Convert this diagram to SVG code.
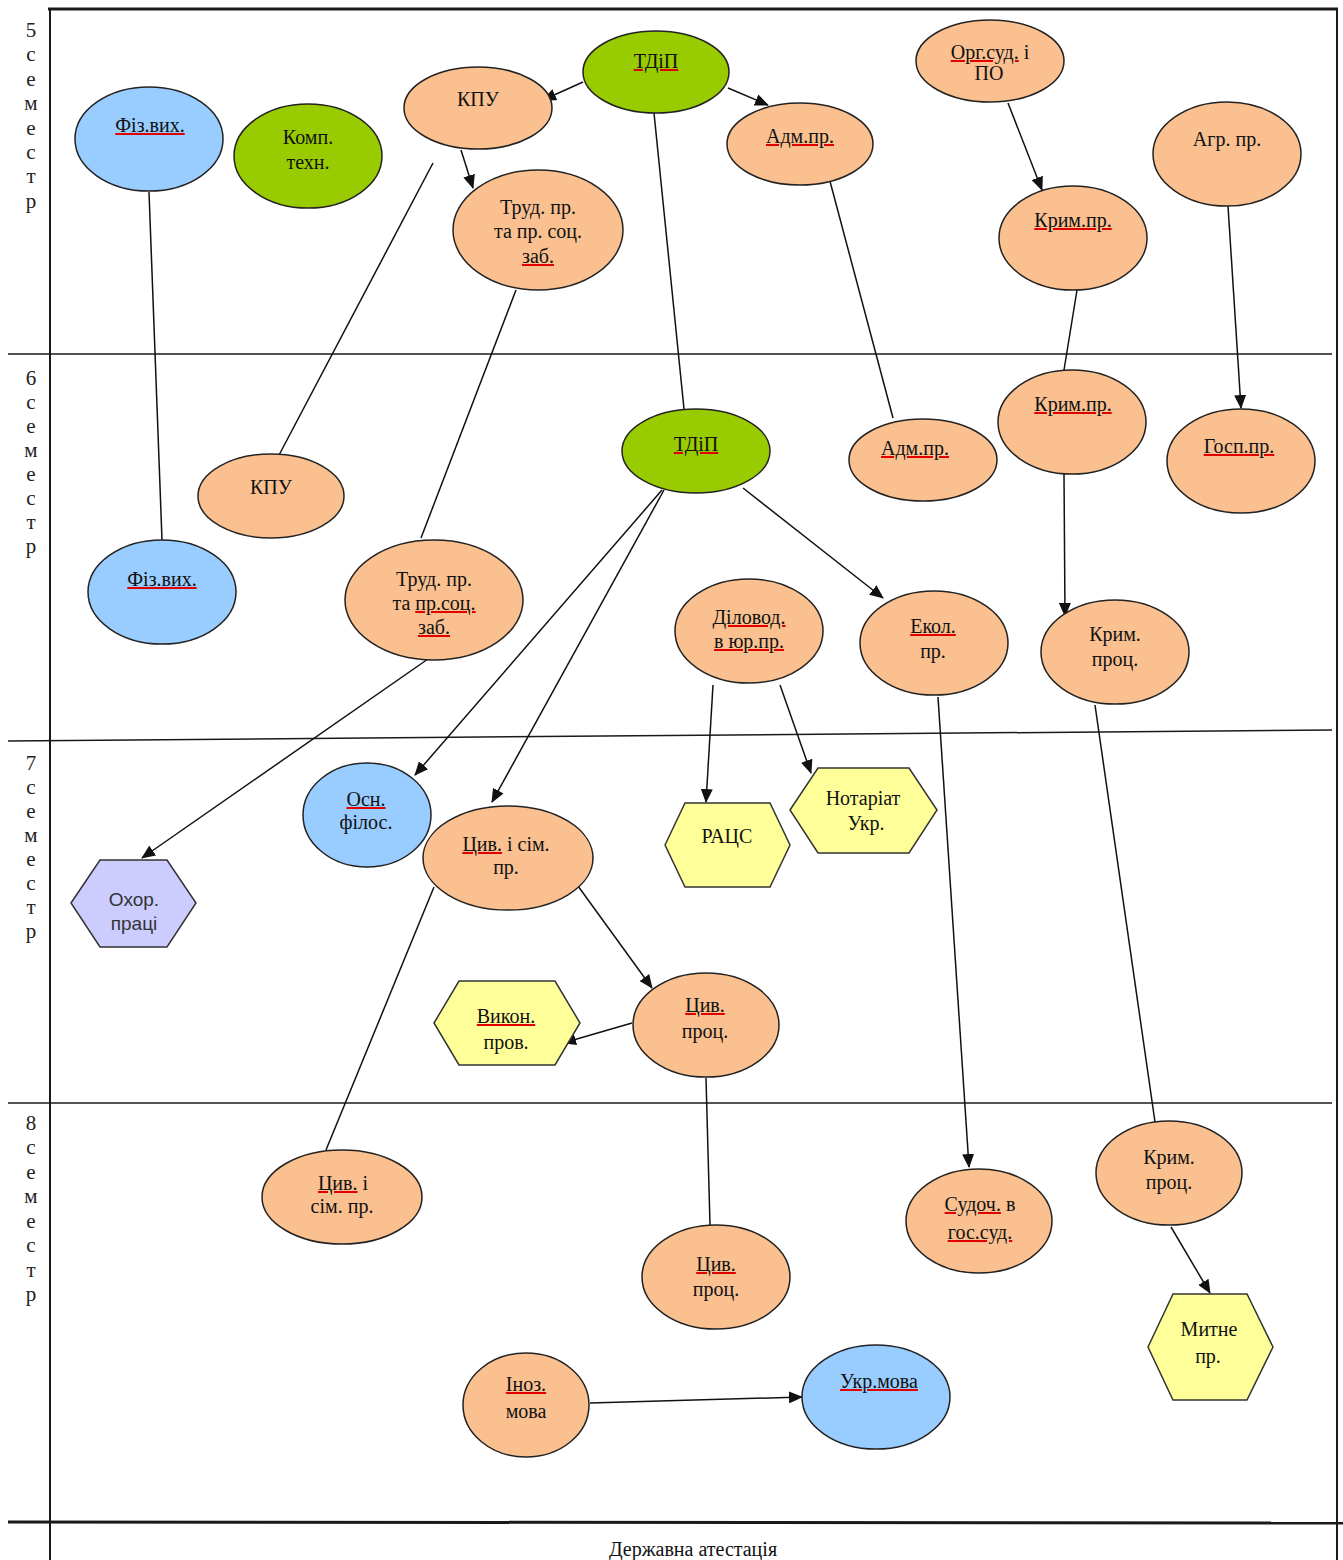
<svg xmlns="http://www.w3.org/2000/svg" width="1343" height="1560" viewBox="0 0 1343 1560">
<style>
text{font-family:"Liberation Serif","Times New Roman",serif;font-size:20px;fill:#111;text-anchor:middle}
.sem{font-size:21px;fill:#222}
.or{fill:#FAC090;stroke:#222;stroke-width:1.5}
.bl{fill:#99CCFF;stroke:#222;stroke-width:1.5}
.gr{fill:#99CC00;stroke:#222;stroke-width:1.5}
.ye{fill:#FFFF99;stroke:#333;stroke-width:1.5}
.lv{fill:#CCCCFF;stroke:#333;stroke-width:1.5}
tspan.u{fill:#e00000;text-decoration:underline}
tspan.k{fill:#111}
.frame line{stroke:#1a1a1a;stroke-width:2}
.conn path{stroke:#111;stroke-width:1.5;fill:none}
.arr{marker-end:url(#ah)}
.sans{font-family:"Liberation Sans",Arial,sans-serif;font-size:19px;fill:#333}
</style>
<defs>
<marker id="ah" markerUnits="userSpaceOnUse" markerWidth="14" markerHeight="12" viewBox="0 0 14 12" refX="13" refY="6" orient="auto">
<path d="M0,0 L14,6 L0,12 Z" fill="#111"/>
</marker>
</defs>
<rect width="1343" height="1560" fill="#fff"/>
<g id="frame" class="frame">
<line x1="48" y1="9" x2="1338" y2="9" style="stroke-width:3"/>
<line x1="50" y1="9" x2="50" y2="1560"/>
<line x1="1337" y1="9" x2="1337" y2="1560"/>
<line x1="8" y1="354" x2="1332" y2="354" style="stroke-width:1.5"/>
<line x1="8" y1="741" x2="1332" y2="730" style="stroke-width:1.5"/>
<line x1="8" y1="1103" x2="1332" y2="1103" style="stroke-width:1.5"/>
<line x1="8" y1="1522" x2="1343" y2="1523" style="stroke-width:3"/>
</g>
<g id="semester-labels">
<text class="sem" x="31" y="37">5</text><text class="sem" x="31" y="61">с</text><text class="sem" x="31" y="86">е</text><text class="sem" x="31" y="110">м</text><text class="sem" x="31" y="135">е</text><text class="sem" x="31" y="159">с</text><text class="sem" x="31" y="183">т</text><text class="sem" x="31" y="208">р</text>
<text class="sem" x="31" y="385">6</text><text class="sem" x="31" y="409">с</text><text class="sem" x="31" y="433">е</text><text class="sem" x="31" y="457">м</text><text class="sem" x="31" y="481">е</text><text class="sem" x="31" y="505">с</text><text class="sem" x="31" y="529">т</text><text class="sem" x="31" y="553">р</text>
<text class="sem" x="31" y="770">7</text><text class="sem" x="31" y="794">с</text><text class="sem" x="31" y="818">е</text><text class="sem" x="31" y="842">м</text><text class="sem" x="31" y="866">е</text><text class="sem" x="31" y="890">с</text><text class="sem" x="31" y="914">т</text><text class="sem" x="31" y="938">р</text>
<text class="sem" x="31" y="1130">8</text><text class="sem" x="31" y="1154">с</text><text class="sem" x="31" y="1179">е</text><text class="sem" x="31" y="1203">м</text><text class="sem" x="31" y="1228">е</text><text class="sem" x="31" y="1252">с</text><text class="sem" x="31" y="1277">т</text><text class="sem" x="31" y="1301">р</text>
<text x="693" y="1556">Державна атестація</text>
</g>
<g id="connectors" class="conn">
<path class="arr" d="M583,82 L543,100"/>
<path class="arr" d="M728,88 L768,105"/>
<path class="arr" d="M461,150 L473,188"/>
<path d="M433,163 L278,457"/>
<path d="M149,192 L162,540"/>
<path d="M516,290 L421,538"/>
<path d="M654,113 L684,409"/>
<path d="M827,170 L893,418"/>
<path class="arr" d="M1008,103 L1042,190"/>
<path d="M1077,290 L1064,370"/>
<path class="arr" d="M1228,206 L1241,408"/>
<path class="arr" d="M1064,474 L1065,616"/>
<path class="arr" d="M743,488 L883,598"/>
<path class="arr" d="M662,490 L415,775"/>
<path class="arr" d="M664,490 L492,802"/>
<path class="arr" d="M428,659 L142,858"/>
<path class="arr" d="M713,685 L706,802"/>
<path class="arr" d="M780,685 L811,773"/>
<path class="arr" d="M938,697 L969,1167"/>
<path d="M1095,705 L1155,1122"/>
<path class="arr" d="M578,886 L652,988"/>
<path class="arr" d="M632,1023 L563,1043"/>
<path d="M434,887 L326,1150"/>
<path d="M706,1078 L710,1225"/>
<path class="arr" d="M1171,1227 L1210,1293"/>
<path class="arr" d="M590,1403 L802,1397"/>
</g>
<g id="n-fiz5"><ellipse class="bl" cx="149" cy="139" rx="74" ry="52"/><text x="150" y="132"><tspan class="u"><tspan class="k">Фіз.вих.</tspan></tspan></text></g>
<g id="n-komp"><ellipse class="gr" cx="308" cy="156" rx="74" ry="52"/><text x="308" y="144">Комп.</text><text x="308" y="169">техн.</text></g>
<g id="n-kpu5"><ellipse class="or" cx="478" cy="108" rx="74" ry="41"/><text x="478" y="106">КПУ</text></g>
<g id="n-tdip5"><ellipse class="gr" cx="656" cy="72" rx="73" ry="41"/><text x="656" y="68"><tspan class="u"><tspan class="k">ТДіП</tspan></tspan></text></g>
<g id="n-adm5"><ellipse class="or" cx="800" cy="144" rx="73" ry="41"/><text x="800" y="143"><tspan class="u"><tspan class="k">Адм.пр.</tspan></tspan></text></g>
<g id="n-trud5"><ellipse class="or" cx="538" cy="230" rx="85" ry="60"/><text x="538" y="214">Труд. пр.</text><text x="538" y="238">та пр. соц.</text><text x="538" y="263"><tspan class="u"><tspan class="k">заб.</tspan></tspan></text></g>
<g id="n-org"><ellipse class="or" cx="990" cy="61" rx="74" ry="41"/><text x="990" y="59"><tspan class="u"><tspan class="k">Орг.суд.</tspan></tspan> і</text><text x="989" y="80">ПО</text></g>
<g id="n-agr"><ellipse class="or" cx="1227" cy="154" rx="74" ry="52"/><text x="1227" y="146">Агр. пр.</text></g>
<g id="n-krim5"><ellipse class="or" cx="1073" cy="238" rx="74" ry="52"/><text x="1073" y="227"><tspan class="u"><tspan class="k">Крим.пр.</tspan></tspan></text></g>
<g id="n-fiz6"><ellipse class="bl" cx="162" cy="592" rx="74" ry="52"/><text x="162" y="586"><tspan class="u"><tspan class="k">Фіз.вих.</tspan></tspan></text></g>
<g id="n-kpu6"><ellipse class="or" cx="271" cy="496" rx="73" ry="42"/><text x="271" y="494">КПУ</text></g>
<g id="n-trud6"><ellipse class="or" cx="434" cy="600" rx="89" ry="60"/><text x="434" y="586">Труд. пр.</text><text x="434" y="610">та <tspan class="u"><tspan class="k">пр.соц.</tspan></tspan></text><text x="434" y="634"><tspan class="u"><tspan class="k">заб.</tspan></tspan></text></g>
<g id="n-tdip6"><ellipse class="gr" cx="696" cy="451" rx="74" ry="42"/><text x="696" y="451"><tspan class="u"><tspan class="k">ТДіП</tspan></tspan></text></g>
<g id="n-adm6"><ellipse class="or" cx="923" cy="460" rx="74" ry="41"/><text x="915" y="455"><tspan class="u"><tspan class="k">Адм.пр.</tspan></tspan></text></g>
<g id="n-dil"><ellipse class="or" cx="749" cy="631" rx="74" ry="52"/><text x="749" y="624"><tspan class="u"><tspan class="k">Діловод.</tspan></tspan></text><text x="749" y="648"><tspan class="u"><tspan class="k">в юр.пр.</tspan></tspan></text></g>
<g id="n-ekol"><ellipse class="or" cx="934" cy="643" rx="74" ry="52"/><text x="933" y="633"><tspan class="u"><tspan class="k">Екол.</tspan></tspan></text><text x="933" y="658">пр.</text></g>
<g id="n-krim6"><ellipse class="or" cx="1072" cy="422" rx="74" ry="52"/><text x="1073" y="411"><tspan class="u"><tspan class="k">Крим.пр.</tspan></tspan></text></g>
<g id="n-gosp"><ellipse class="or" cx="1241" cy="461" rx="74" ry="52"/><text x="1239" y="453"><tspan class="u"><tspan class="k">Госп.пр.</tspan></tspan></text></g>
<g id="n-krimproc6"><ellipse class="or" cx="1115" cy="652" rx="74" ry="52"/><text x="1115" y="641">Крим.</text><text x="1115" y="666">проц.</text></g>
<g id="n-ohor"><polygon class="lv" points="71,903 100,860 167,860 196,903 167,947 100,947"/><text class="sans" x="134" y="906">Охор.</text><text class="sans" x="134" y="930">праці</text></g>
<g id="n-osn"><ellipse class="bl" cx="367" cy="815" rx="64" ry="52"/><text x="366" y="806"><tspan class="u"><tspan class="k">Осн.</tspan></tspan></text><text x="366" y="829">філос.</text></g>
<g id="n-civ7"><ellipse class="or" cx="508" cy="858" rx="85" ry="52"/><text x="506" y="851"><tspan class="u"><tspan class="k">Цив.</tspan></tspan> і сім.</text><text x="506" y="874">пр.</text></g>
<g id="n-racs"><polygon class="ye" points="665,845 685,803 770,803 790,845 770,887 685,887"/><text x="727" y="843">РАЦС</text></g>
<g id="n-notar"><polygon class="ye" points="790,810 818,768 909,768 937,810 909,853 818,853"/><text x="863" y="805">Нотаріат</text><text x="866" y="830">Укр.</text></g>
<g id="n-civproc7"><ellipse class="or" cx="706" cy="1025" rx="73" ry="52"/><text x="705" y="1012"><tspan class="u"><tspan class="k">Цив.</tspan></tspan></text><text x="705" y="1038">проц.</text></g>
<g id="n-vykon"><polygon class="ye" points="434,1023 459,981 555,981 580,1023 555,1065 459,1065"/><text x="506" y="1023"><tspan class="u"><tspan class="k">Викон.</tspan></tspan></text><text x="506" y="1049">пров.</text></g>
<g id="n-civ8"><ellipse class="or" cx="342" cy="1197" rx="80" ry="47"/><text x="343" y="1190"><tspan class="u"><tspan class="k">Цив.</tspan></tspan> і</text><text x="342" y="1213">сім. пр.</text></g>
<g id="n-civproc8"><ellipse class="or" cx="716" cy="1277" rx="74" ry="52"/><text x="716" y="1271"><tspan class="u"><tspan class="k">Цив.</tspan></tspan></text><text x="716" y="1296">проц.</text></g>
<g id="n-sud"><ellipse class="or" cx="979" cy="1221" rx="73" ry="52"/><text x="980" y="1211"><tspan class="u"><tspan class="k">Судоч.</tspan></tspan> в</text><text x="980" y="1239"><tspan class="u"><tspan class="k">гос.суд.</tspan></tspan></text></g>
<g id="n-krimproc8"><ellipse class="or" cx="1169" cy="1173" rx="73" ry="52"/><text x="1169" y="1164">Крим.</text><text x="1169" y="1189">проц.</text></g>
<g id="n-mytne"><polygon class="ye" points="1148,1347 1173,1294 1247,1294 1273,1347 1247,1400 1173,1400"/><text x="1209" y="1336">Митне</text><text x="1208" y="1363">пр.</text></g>
<g id="n-ino"><ellipse class="or" cx="526" cy="1405" rx="63" ry="52"/><text x="526" y="1391"><tspan class="u"><tspan class="k">Іноз.</tspan></tspan></text><text x="526" y="1418">мова</text></g>
<g id="n-ukr"><ellipse class="bl" cx="876" cy="1397" rx="74" ry="52"/><text x="879" y="1388"><tspan class="u"><tspan class="k">Укр.мова</tspan></tspan></text></g>
</svg>
